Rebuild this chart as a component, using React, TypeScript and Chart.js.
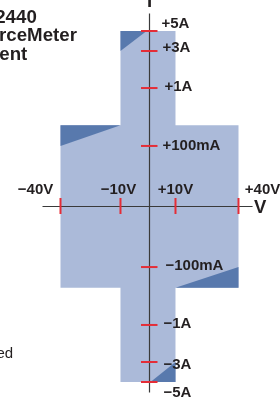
import { useEffect, useRef } from 'react';
import { Chart, registerables } from 'chart.js';

Chart.register(...registerables);

// ---- Axis ticks & labels ----
const voltTicks = [-40, -10, 10, 40];
const voltLabels = ['−40V', '−10V', '+10V', '+40V'];
const currentTicks = [5, 3, 1, 0.1, -0.1, -1, -3, -5];
const currentLabels = ['+5A', '+3A', '+1A', '+100mA', '−100mA', '−1A', '−3A', '−5A'];

// ---- Operating envelope (volts, amps) ----
const envelopeV = [-10, 10, 10, 40, 40, 10, 10, -10, -10, -40, -40, -10];
const envelopeI = [5, 5, 0.42, 0.42, -0.42, -0.42, -5, -5, -0.42, -0.42, 0.42, 0.42];

// ---- Sink regions (dark) ----
const sinkTopV = [-10, -1, -10];
const sinkTopI = [5, 5, 3];
const sinkLeftV = [-40, -10, -40];
const sinkLeftI = [0.42, 0.42, 0.1];
const sinkRightV = [40, 40, 10];
const sinkRightI = [-0.1, -0.42, -0.42];
const sinkBottomV = [10, 0.4, 10];
const sinkBottomI = [-5, -5, -3];

// ---- Axis line extents ----
const voltAxisRange = [-49, 46.7];
const currentAxisRange = [-6.05, 6.75];

// ---- Text fragments ----
const titleLines = ['2440', 'rceMeter', 'ent'];
const footnote = 'ed';
const axisNames = ['V', 'I'];

// ---- Schematic (non-uniform) axis layout ----
const voltBreaks = [-40, -10, 0, 10, 40];
const voltUnits = [-1, -0.326, 0, 0.292, 1];
const currentBreaks = [-5, -3, -1, -0.1, 0, 0.1, 1, 3, 5];
const currentUnits = [-1, -0.886, -0.675, -0.345, 0, 0.345, 0.675, 0.886, 1];

function warp(v: number, breaks: number[], units: number[]): number {
  const n = breaks.length;
  let i = 0;
  if (v <= breaks[0]) i = 0;
  else if (v >= breaks[n - 1]) i = n - 2;
  else {
    while (i < n - 2 && v > breaks[i + 1]) i++;
  }
  const t = (v - breaks[i]) / (breaks[i + 1] - breaks[i]);
  return units[i] + t * (units[i + 1] - units[i]);
}
const wv = (v: number) => warp(v, voltBreaks, voltUnits);
const wi = (a: number) => warp(a, currentBreaks, currentUnits);
const pts = (vs: number[], is: number[]) => vs.map((v, k) => ({ x: wv(v), y: wi(is[k]) }));

const LIGHT = '#abbad9';
const DARK = '#5879ad';
const RED = '#e42d37';
const INK = '#231f20';
const FONT = '"Liberation Sans", Arial, Helvetica, sans-serif';

// label style offsets (px)
const voltLabelDx = [-25, -2, 0, 24];
const currentLabelDx = [12, 13, 15, 13, 16, 14, 14, 14];
const currentLabelDy = [-7.5, -3.5, -1.5, -0.5, -1.5, -1.5, 2.5, 10.5];

const overlay = {
  id: 'overlay',
  afterDatasetsDraw(chart: any) {
    const { ctx } = chart;
    const xs = chart.scales.x;
    const ys = chart.scales.y;
    const x0 = xs.getPixelForValue(0);
    const y0 = ys.getPixelForValue(0);
    ctx.save();
    // red ticks
    ctx.strokeStyle = RED;
    ctx.lineWidth = 2;
    voltTicks.forEach((v) => {
      const px = xs.getPixelForValue(wv(v));
      ctx.beginPath();
      ctx.moveTo(px, y0 - 8.5);
      ctx.lineTo(px, y0 + 7.5);
      ctx.stroke();
    });
    currentTicks.forEach((a) => {
      const py = ys.getPixelForValue(wi(a));
      ctx.beginPath();
      ctx.moveTo(x0 - 8.5, py);
      ctx.lineTo(x0 + 8, py);
      ctx.stroke();
    });
    // tick labels
    ctx.fillStyle = INK;
    ctx.font = `bold 15px ${FONT}`;
    ctx.textBaseline = 'middle';
    ctx.textAlign = 'center';
    voltTicks.forEach((v, k) => {
      const px = xs.getPixelForValue(wv(v));
      ctx.fillText(voltLabels[k], px + voltLabelDx[k], y0 - 17);
    });
    ctx.textAlign = 'left';
    currentTicks.forEach((a, k) => {
      const py = ys.getPixelForValue(wi(a));
      ctx.fillText(currentLabels[k], x0 + currentLabelDx[k], py + currentLabelDy[k]);
    });
    // axis names
    ctx.textBaseline = 'alphabetic';
    ctx.textAlign = 'center';
    ctx.font = `bold 18.5px ${FONT}`;
    ctx.fillText(axisNames[0], xs.getPixelForValue(wv(voltAxisRange[1])) + 7.5, y0 + 6.5);
    ctx.fillText(axisNames[1], x0, ys.getPixelForValue(wi(currentAxisRange[1])) - 6);
    // title fragments
    ctx.textAlign = 'left';
    ctx.font = `bold 18.7px ${FONT}`;
    ctx.fillText(titleLines[0], -4.8, 22.7);
    ctx.fillText(titleLines[1], -1, 40.7);
    ctx.fillText(titleLines[2], -0.7, 60);
    ctx.font = `15px ${FONT}`;
    ctx.fillText(footnote, -3.5, 358);
    ctx.restore();
  },
};

export default function App() {
  const ref = useRef<HTMLCanvasElement | null>(null);
  useEffect(() => {
    if (!ref.current) return;
    const poly = (data: any[], color: string) => ({
      data,
      backgroundColor: color,
      borderColor: 'rgba(0,0,0,0)',
      borderWidth: 0,
      pointRadius: 0,
      fill: 'shape',
      tension: 0,
    });
    const line = (data: any[]) => ({
      data,
      borderColor: '#3a3a3a',
      borderWidth: 1.2,
      pointRadius: 0,
      fill: false,
      tension: 0,
    });
    const chart = new Chart(ref.current, {
      type: 'line',
      data: {
        datasets: [
          line([
            { x: wv(voltAxisRange[0]), y: 0 },
            { x: wv(voltAxisRange[1]), y: 0 },
          ]),
          line([
            { x: 0, y: wi(currentAxisRange[0]) },
            { x: 0, y: wi(currentAxisRange[1]) },
          ]),
          poly(pts(sinkTopV, sinkTopI), DARK),
          poly(pts(sinkLeftV, sinkLeftI), DARK),
          poly(pts(sinkRightV, sinkRightI), DARK),
          poly(pts(sinkBottomV, sinkBottomI), DARK),
          poly(pts(envelopeV, envelopeI), LIGHT),
        ] as any,
      },
      options: {
        responsive: false,
        animation: false,
        devicePixelRatio: 1,
        layout: { padding: 0 },
        scales: {
          x: { type: 'linear', min: -149.5 / 89, max: 130.5 / 89, display: false },
          y: { type: 'linear', min: -190.5 / 175.5, max: 206.5 / 175.5, display: false },
        },
        plugins: { legend: { display: false }, tooltip: { enabled: false } },
        events: [],
      } as any,
      plugins: [overlay],
    });
    return () => chart.destroy();
  }, []);
  return (
    <div style={{ position: 'absolute', left: 0, top: 0, width: 280, height: 397, background: '#fff' }}>
      <canvas ref={ref} width={280} height={397} style={{ display: 'block' }} />
    </div>
  );
}
